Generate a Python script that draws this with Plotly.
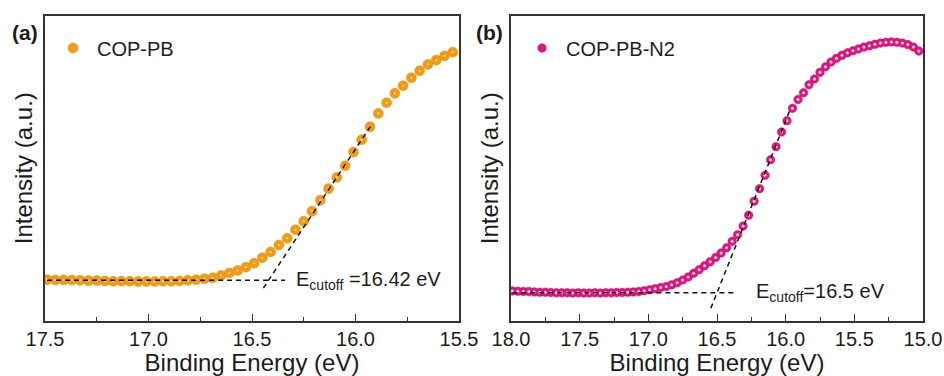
import plotly.graph_objects as go
from plotly.subplots import make_subplots

# ---- (a) COP-PB secondary-electron cutoff region ----
energy_a = [17.49, 17.45, 17.41, 17.37, 17.33, 17.29, 17.25, 17.21, 17.17, 17.13,
            17.09, 17.05, 17.01, 16.97, 16.93, 16.89, 16.85, 16.81, 16.77, 16.73,
            16.69, 16.65, 16.61, 16.57, 16.53, 16.49, 16.45, 16.41, 16.37, 16.33,
            16.29, 16.25, 16.21, 16.17, 16.13, 16.09, 16.05, 16.01, 15.97, 15.93,
            15.89, 15.85, 15.81, 15.77, 15.73, 15.69, 15.65, 15.61, 15.57, 15.53]
intensity_a = [0.134, 0.133, 0.133, 0.133, 0.132, 0.131, 0.131, 0.130, 0.129, 0.129,
               0.129, 0.128, 0.128, 0.128, 0.129, 0.129, 0.130, 0.132, 0.134, 0.137,
               0.140, 0.148, 0.156, 0.164, 0.175, 0.188, 0.206, 0.225, 0.248, 0.270,
               0.298, 0.326, 0.359, 0.395, 0.433, 0.470, 0.508, 0.553, 0.594, 0.636,
               0.680, 0.715, 0.746, 0.771, 0.797, 0.820, 0.841, 0.855, 0.869, 0.881]
cutoff_a = 16.42          # eV
base_a = 0.132            # flat background level
slope_a = -1.027          # leading-edge slope (a.u. per eV)
base_span_a = [17.49, 16.34]
edge_span_a = [16.445, 15.92]

# ---- (b) COP-PB-N2 ----
energy_b = [17.99, 17.95, 17.91, 17.87, 17.83, 17.79, 17.75, 17.71, 17.67, 17.63,
            17.59, 17.55, 17.51, 17.47, 17.43, 17.39, 17.35, 17.31, 17.27, 17.23,
            17.19, 17.15, 17.11, 17.07, 17.03, 16.99, 16.95, 16.91, 16.87, 16.83,
            16.79, 16.75, 16.71, 16.67, 16.63, 16.59, 16.55, 16.51, 16.47, 16.43,
            16.39, 16.35, 16.31, 16.27, 16.23, 16.19, 16.15, 16.11, 16.07, 16.03,
            15.99, 15.95, 15.91, 15.87, 15.83, 15.79, 15.75, 15.71, 15.67, 15.63,
            15.59, 15.55, 15.51, 15.47, 15.43, 15.39, 15.35, 15.31, 15.27, 15.23,
            15.19, 15.15, 15.11, 15.07, 15.03]
intensity_b = [0.097, 0.096, 0.095, 0.095, 0.094, 0.093, 0.093, 0.092, 0.091, 0.091,
               0.091, 0.090, 0.091, 0.090, 0.090, 0.091, 0.090, 0.091, 0.091, 0.092,
               0.092, 0.093, 0.094, 0.095, 0.098, 0.101, 0.104, 0.108, 0.112, 0.117,
               0.124, 0.133, 0.143, 0.155, 0.167, 0.180, 0.193, 0.207, 0.222, 0.239,
               0.260, 0.282, 0.310, 0.346, 0.392, 0.433, 0.477, 0.528, 0.571, 0.619,
               0.656, 0.697, 0.726, 0.748, 0.774, 0.793, 0.815, 0.833, 0.849, 0.861,
               0.871, 0.879, 0.886, 0.892, 0.898, 0.902, 0.907, 0.911, 0.914, 0.915,
               0.914, 0.911, 0.906, 0.898, 0.885]
cutoff_b = 16.5
base_b = 0.091
slope_b = -1.13
base_span_b = [17.99, 16.38]
edge_span_b = [16.545, 15.965]

x_ticks_a = [17.5, 17.0, 16.5, 16.0, 15.5]
x_ticks_b = [18.0, 17.5, 17.0, 16.5, 16.0, 15.5, 15.0]

ORANGE = "#F29B14"
ORANGE_EDGE = "#E69000"
MAGENTA = "#E2157F"
MAGENTA_EDGE = "#C80068"
FONT = "Arial, Liberation Sans, sans-serif"
INK = "#1c1c1c"
FRAME = "#333333"

fig = make_subplots(rows=1, cols=2, horizontal_spacing=0.05)


def add_panel(col, x, y, color, edge, name, legend, marker_size, gloss,
              cutoff, base, slope, base_span, edge_span):
    fig.add_trace(go.Scatter(
        x=x, y=y, mode="markers", name=name, legend=legend,
        marker=dict(size=marker_size, color=color,
                    line=dict(color=edge, width=0.5)),
    ), row=1, col=col)
    # glossy highlight on each sphere
    fig.add_trace(go.Scatter(
        x=x, y=y, mode="markers", showlegend=False, hoverinfo="skip",
        marker=dict(size=gloss[0], color="rgba(255,255,255,%.2f)" % gloss[1]),
    ), row=1, col=col)
    # background level
    fig.add_trace(go.Scatter(
        x=base_span, y=[base, base], mode="lines", showlegend=False,
        line=dict(color="#111111", width=1.5, dash="5px,4px"),
    ), row=1, col=col)
    # linear extrapolation of the leading edge
    fig.add_trace(go.Scatter(
        x=edge_span, y=[base + slope * (e - cutoff) for e in edge_span],
        mode="lines", showlegend=False,
        line=dict(color="#111111", width=1.5, dash="5px,4px"),
    ), row=1, col=col)


add_panel(1, energy_a, intensity_a, ORANGE, ORANGE_EDGE, "COP-PB", "legend", 10, (2.2, 0.7),
          cutoff_a, base_a, slope_a, base_span_a, edge_span_a)
add_panel(2, energy_b, intensity_b, MAGENTA, MAGENTA_EDGE, "COP-PB-N2", "legend2", 8.5, (3, 0.85),
          cutoff_b, base_b, slope_b, base_span_b, edge_span_b)

W, H = 944, 376
dom_a = [45 / W, 459 / W]
dom_b = [511 / W, 923 / W]
dom_y = [1 - 320.5 / H, 1 - 16 / H]

axis_common = dict(
    showline=True, mirror=True, linecolor=FRAME, linewidth=1.6,
    showgrid=False, zeroline=False, automargin=False,
)
fig.update_xaxes(
    **axis_common,
    ticks="inside", ticklen=7, tickwidth=1.4, tickcolor=FRAME,
    minor=dict(ticks="inside", ticklen=4, tickwidth=1.2, tickcolor=FRAME, dtick=0.25),
    tickformat=".1f", dtick=0.5,
    tickfont=dict(family=FONT, size=20, color=INK),
    title=dict(text="Binding Energy (eV)", font=dict(family=FONT, size=24, color=INK),
               standoff=4),
)
fig.update_xaxes(domain=dom_a, range=[17.5, 15.5], tickvals=x_ticks_a, row=1, col=1)
fig.update_xaxes(domain=dom_b, range=[18.0, 15.0], tickvals=x_ticks_b, row=1, col=2)
fig.update_yaxes(
    **axis_common, domain=dom_y, range=[0, 1], showticklabels=False, ticks="",
    title=dict(text="Intensity (a.u.)", font=dict(family=FONT, size=24, color=INK),
               standoff=4),
)

legend_common = dict(
    font=dict(family=FONT, size=20, color=INK), bgcolor="rgba(0,0,0,0)",
    xanchor="left", yanchor="middle", itemsizing="trace", itemwidth=38,
)
fig.update_layout(
    width=W, height=H,
    margin=dict(l=0, r=0, t=0, b=0, autoexpand=False),
    paper_bgcolor="white", plot_bgcolor="white",
    font=dict(family=FONT, color=INK),
    legend=dict(**legend_common, x=49 / W, y=1 - 48 / H),
    legend2=dict(**legend_common, x=518 / W, y=1 - 48 / H),
    annotations=[
        dict(text="<b>(a)</b>", xref="paper", yref="paper", x=10 / W, y=1 - 33 / H,
             xanchor="left", yanchor="middle", showarrow=False,
             font=dict(family=FONT, size=21, color=INK)),
        dict(text="<b>(b)</b>", xref="paper", yref="paper", x=474 / W, y=1 - 33 / H,
             xanchor="left", yanchor="middle", showarrow=False,
             font=dict(family=FONT, size=21, color=INK)),
        dict(text="E<sub>cutoff</sub> =%.2f eV" % cutoff_a, xref="x", yref="y",
             x=16.295, y=base_a, xanchor="left", yanchor="middle", showarrow=False,
             font=dict(family=FONT, size=20, color=INK)),
        dict(text="E<sub>cutoff</sub>=%.1f eV" % cutoff_b, xref="x2", yref="y2",
             x=16.23, y=base_b, xanchor="left", yanchor="middle", showarrow=False,
             font=dict(family=FONT, size=20, color=INK)),
    ],
)

fig.write_html("out.html")
